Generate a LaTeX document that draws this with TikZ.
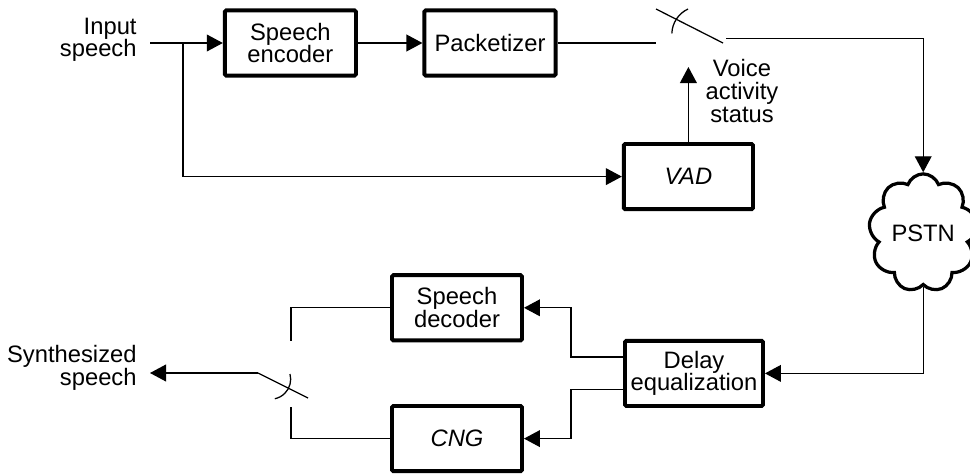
\documentclass[tikz,border=0pt]{standalone}
\usepackage{fontspec}
\setmainfont{Liberation Sans}
\usetikzlibrary{arrows.meta,shapes.symbols,positioning}

\begin{document}
\begin{tikzpicture}[
    >={Triangle[length=4mm,width=4.2mm]},
    font=\fontsize{16.9}{16.2}\selectfont,
    line width=0.9pt,
    block/.style={draw, line width=2.8pt, rounded corners=1pt, minimum width=3.28cm, minimum height=1.63cm, align=center, inner sep=2pt},
    lbl/.style={align=center, inner sep=0pt}
  ]
  \useasboundingbox (0,0) rectangle (24.25,11.825);
  % sending path
  \node[block] (enc) at (7.26,10.75) {Speech\\encoder};
  \node[block] (pkt) at (12.25,10.75) {Packetizer};
  \node[block, minimum width=3.23cm] (vad) at (17.21,7.41) {\textit{VAD}};
  \node[cloud, draw, line width=2.3pt, cloud puffs=9, cloud puff arc=140, aspect=0.87,
        minimum width=2.55cm, minimum height=2.95cm, inner sep=0pt] (pstn) at (23.08,6.0) {PSTN};
  % receiving path
  \node[block, minimum width=3.45cm] (deq) at (17.35,2.49) {Delay\\equalization};
  \node[block, minimum width=3.25cm] (dec) at (11.425,4.13) {Speech\\decoder};
  \node[block, minimum width=3.25cm] (cng) at (11.425,0.86) {\textit{CNG}};
  % labels
  \node[lbl, align=right, anchor=east] (intxt) at (3.43,10.83) {Input\\speech};
  \node[lbl, align=right, anchor=east] (outtxt) at (3.43,2.62) {Synthesized\\speech};
  \node[lbl] (vastxt) at (18.55,9.55) {Voice\\activity\\status};
  % end points and switch contacts
  \coordinate (in) at (3.75,10.75);
  \coordinate (br) at (4.575,10.75);
  \coordinate (s1a) at (16.4,10.75);
  \coordinate (s1t) at (16.4,11.6);
  \coordinate (s1p) at (18.075,10.75);
  \coordinate (s1c) at (18.15,10.8625);
  \coordinate (vs) at (17.21,10.15);
  \coordinate (s2t) at (7.275,3.3);
  \coordinate (s2b) at (7.275,1.65);
  \coordinate (s2p) at (6.45,2.5);
  \coordinate (s2e) at (7.7,1.875);
  \coordinate (out) at (3.75,2.5);
  % connections
  \draw[->] (in) -- (enc);
  \draw[->] (br) |- (vad);
  \draw[->] (enc) -- (pkt);
  \draw (pkt) -- (s1a);
  \draw (s1t) -- (s1p);
  \draw (17.2,11.6) arc[start angle=115, end angle=178, radius=0.7cm];
  \draw[->] (s1c) -| (pstn.north);
  \draw[->] (vad.north) -- (vs);
  \draw[->] (pstn.south) |- (deq.east);
  \draw[->] ([yshift=0.41cm]deq.west) -- ++(-1.3,0) |- (dec.east);
  \draw[->] ([yshift=-0.41cm]deq.west) -- ++(-1.3,0) |- (cng.east);
  \draw (dec.west) -| (s2t);
  \draw (cng.west) -| (s2b);
  \draw (s2p) -- (s2e);
  \draw (7.25,2.475) arc[start angle=15, end angle=-78, radius=0.5cm];
  \draw[->] (s2p) -- (out);
\end{tikzpicture}
\end{document}
